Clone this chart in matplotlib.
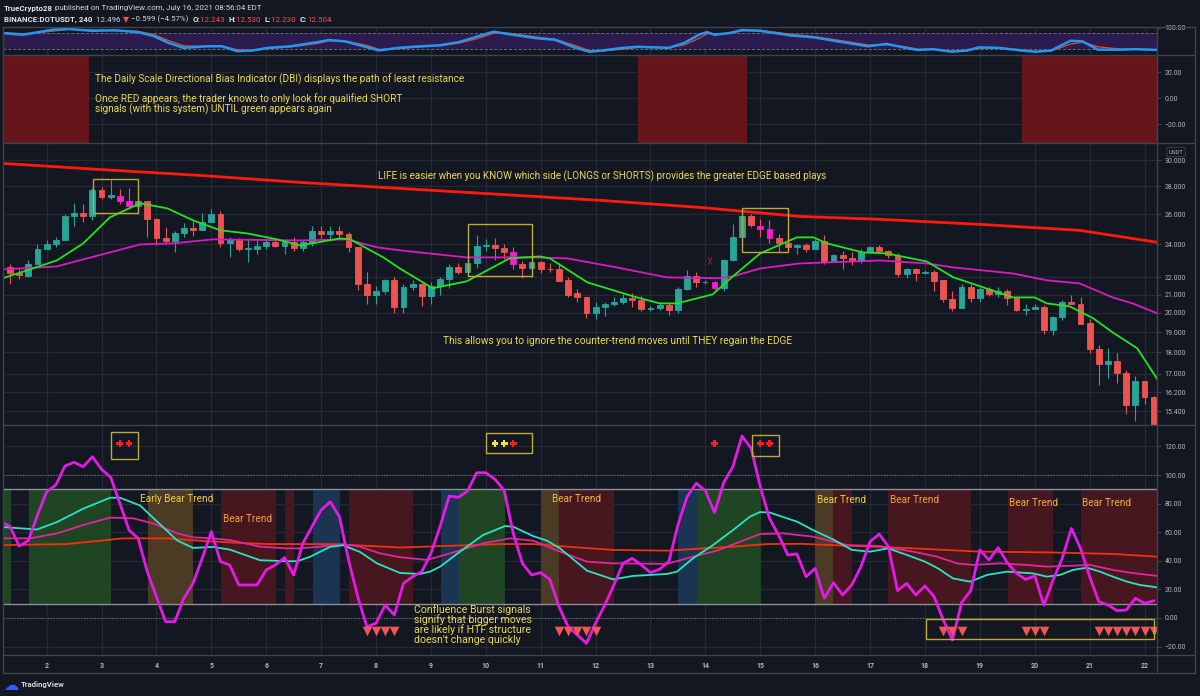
import matplotlib
matplotlib.use("Agg")
import matplotlib.pyplot as plt
from matplotlib.patches import Rectangle
from matplotlib.lines import Line2D
from matplotlib.ticker import NullLocator
from matplotlib import font_manager

W, H = 1200, 696
BG = "#131722"
GRID = "#252935"
SEP = "#3f424d"
TICK = "#b2b5be"
NOTE = "#ecd94a"
UP, DOWN, HILITE = "#26a69a", "#ef5350", "#ff19d1"
BOX = "#bfa935"

names = {f.name for f in font_manager.fontManager.ttflist}
TXT_FONT = ["Liberation Sans Narrow", "Roboto", "DejaVu Sans"] if "Liberation Sans Narrow" in names else ["Roboto", "DejaVu Sans"]
plt.rcParams["font.family"] = ["Roboto", "DejaVu Sans"]

# ---------------- data ----------------
day_labels = list(range(2, 23))
first_midnight = 4      # index of the 00:00 candle of day 2
bars_per_day = 6

opens = [22.57, 22.21, 22.05, 22.80, 23.70, 24.00, 24.25, 25.90, 26.10, 25.90,
         27.70, 27.20, 27.30, 26.90, 26.55, 26.90, 25.70, 24.40, 24.20, 24.75,
         25.05, 24.95, 25.50, 26.00, 24.10, 24.30, 23.70, 23.70, 23.90, 24.15,
         23.90, 24.15, 23.75, 24.10, 24.90, 24.70, 24.85, 24.70, 23.80, 21.60,
         21.00, 21.20, 21.80, 20.30, 21.40, 21.60, 20.90, 21.50, 21.90, 22.60,
         22.30, 22.85, 23.90, 23.95, 23.75, 23.50, 22.75, 22.55, 22.90, 22.50,
         22.50, 21.80, 21.10, 20.85, 20.00, 20.30, 20.50, 20.60, 20.80, 20.70,
         20.20, 20.25, 20.40, 20.15, 21.30, 22.05, 21.70, 21.70, 21.35, 23.00,
         24.45, 25.90, 25.20, 25.00, 24.40, 24.10, 23.80, 23.95, 23.70, 24.20,
         22.95, 23.30, 23.15, 22.95, 23.50, 23.85, 23.55, 23.35, 22.20, 22.50,
         22.25, 22.30, 21.80, 20.75, 20.25, 21.45, 20.80, 21.30, 21.05, 21.20,
         20.80, 20.15, 20.20, 20.30, 19.10, 19.80, 20.60, 20.50, 19.45, 18.15,
         17.45, 17.60, 17.05, 15.65, 16.70, 16.00]
highs = [22.80, 22.50, 23.00, 24.00, 24.30, 24.50, 26.00, 26.80, 26.70, 27.90,
         27.95, 28.50, 27.80, 27.85, 27.30, 26.95, 25.75, 25.10, 24.90, 25.40,
         25.55, 26.10, 26.40, 26.20, 24.50, 24.40, 24.30, 24.25, 24.25, 24.30,
         24.25, 24.45, 24.30, 25.20, 25.20, 25.20, 25.20, 24.80, 23.80, 22.30,
         21.50, 21.90, 22.00, 21.60, 21.80, 21.65, 21.70, 22.00, 22.80, 22.85,
         23.10, 24.60, 24.35, 24.40, 24.00, 23.80, 22.95, 22.95, 22.95, 22.85,
         22.85, 22.00, 21.30, 20.85, 20.60, 20.60, 20.85, 21.05, 21.10, 20.90,
         20.35, 20.60, 20.55, 21.40, 22.40, 22.30, 21.80, 21.75, 23.10, 25.35,
         26.00, 26.00, 25.65, 25.60, 24.70, 24.80, 24.00, 24.10, 24.35, 24.60,
         23.40, 23.60, 23.50, 23.70, 23.90, 23.95, 23.65, 23.45, 22.55, 22.55,
         22.40, 22.40, 21.85, 21.20, 21.60, 21.60, 21.40, 21.40, 21.40, 21.30,
         20.85, 20.50, 20.45, 20.40, 19.85, 20.70, 21.00, 20.85, 19.65, 18.35,
         18.20, 17.95, 17.20, 16.90, 16.70, 16.05]
lows = [21.60, 21.90, 22.00, 22.75, 23.70, 23.80, 24.25, 25.20, 25.50, 25.60,
        27.10, 27.10, 26.70, 26.45, 26.45, 24.50, 23.95, 24.00, 23.50, 24.50,
        24.55, 24.95, 25.50, 23.80, 23.20, 23.60, 22.90, 23.40, 23.70, 23.85,
        23.40, 23.60, 23.60, 23.90, 24.25, 24.30, 24.35, 23.50, 21.25, 20.45,
        20.50, 21.05, 20.00, 20.00, 21.25, 20.35, 20.45, 21.00, 21.35, 22.20,
        22.30, 22.55, 23.60, 23.00, 23.10, 22.50, 21.95, 22.00, 22.25, 22.30,
        21.75, 20.85, 20.60, 19.75, 19.70, 19.85, 20.35, 20.50, 20.30, 20.10,
        20.10, 20.15, 19.90, 20.00, 21.25, 21.40, 21.60, 21.25, 21.20, 22.95,
        24.45, 25.10, 24.50, 24.10, 23.50, 23.60, 23.40, 23.50, 23.70, 22.80,
        22.90, 22.45, 22.70, 22.85, 23.50, 23.45, 23.15, 22.00, 21.95, 21.75,
        22.15, 21.20, 20.60, 20.10, 20.25, 20.60, 20.60, 20.90, 20.85, 20.40,
        20.10, 19.90, 20.20, 18.90, 18.85, 19.60, 20.50, 19.40, 17.95, 16.50,
        16.80, 16.60, 15.30, 15.00, 15.70, 14.50]
closes = [22.21, 22.10, 22.80, 23.70, 24.00, 24.30, 25.90, 26.10, 25.90, 27.70,
          27.20, 27.35, 26.90, 26.55, 26.90, 25.70, 24.40, 24.20, 24.75, 25.05,
          24.95, 25.50, 26.00, 24.10, 24.30, 23.70, 23.75, 23.90, 24.15, 23.90,
          24.15, 23.75, 24.15, 24.90, 24.70, 24.85, 24.70, 23.80, 21.60, 21.00,
          21.20, 21.80, 20.30, 21.40, 21.60, 20.90, 21.50, 21.90, 22.60, 22.30,
          22.85, 23.90, 23.95, 23.75, 23.50, 22.75, 22.55, 22.90, 22.50, 22.45,
          21.75, 21.00, 20.85, 20.00, 20.30, 20.50, 20.60, 20.80, 20.70, 20.20,
          20.25, 20.40, 20.15, 21.30, 22.05, 21.70, 21.72, 21.35, 23.00, 24.45,
          25.90, 25.30, 25.00, 24.40, 24.10, 23.80, 23.95, 23.70, 24.20, 22.95,
          23.30, 23.15, 22.95, 23.50, 23.85, 23.55, 23.35, 22.20, 22.50, 22.25,
          22.30, 21.75, 20.75, 20.25, 21.45, 20.80, 21.30, 21.05, 21.20, 20.80,
          20.15, 20.20, 20.30, 19.10, 19.80, 20.60, 20.50, 19.40, 18.15, 17.45,
          17.60, 17.05, 15.65, 16.70, 16.00, 14.60]
signal_candles = [12, 13, 55, 77, 82, 83]

red_ma_x = [-0.66, 9.8, 20.8, 31.7, 42.6, 53.6, 64.5, 75.4, 86.3, 95.1, 106.0, 116.9, 125.4]
red_ma = [29.76, 29.29, 28.83, 28.30, 27.85, 27.41, 26.98, 26.48, 25.85, 25.65, 25.31, 24.91, 24.13]
green_ma_x = [-0.8, 2.5, 5.1, 8.0, 10.9, 14.2, 17.2, 20.0, 23.0, 25.9, 29.2, 31.7, 36.1, 37.2, 40.8,
              42.6, 46.2, 49.9, 54.6, 57.9, 59.0, 63.1, 68.1, 71.0, 72.9, 76.8, 79.0, 82.0, 86.0, 87.8,
              89.3, 93.2, 95.8, 100.2, 103.1, 105.1, 109.6, 112.0, 113.3, 115.8, 118.4, 120.5, 123.2, 125.4]
green_ma = [21.93, 22.51, 22.99, 24.06, 25.78, 26.77, 26.41, 25.58, 24.91, 24.71, 24.32, 23.93, 24.38, 24.32, 23.18,
            22.51, 21.35, 21.75, 23.12, 23.24, 23.12, 21.69, 20.90, 20.51, 20.51, 21.01, 22.04, 23.43, 24.45, 24.45,
            24.06, 23.49, 23.43, 22.93, 21.98, 21.63, 20.84, 20.84, 20.51, 20.35, 19.71, 18.99, 18.20, 16.76]
pink_ma_x = [-0.8, 5.1, 8.0, 10.9, 14.2, 17.8, 22.2, 31.7, 36.8, 40.1, 42.6, 49.9, 57.2, 60.9, 66.3,
             71.8, 77.3, 79.0, 82.0, 86.3, 95.1, 100.2, 103.1, 109.6, 113.3, 116.9, 120.5, 122.7, 125.4]
pink_ma = [22.45, 22.63, 23.06, 23.49, 23.99, 24.06, 24.32, 24.25, 24.32, 23.81, 23.62, 23.18, 23.18, 23.12, 22.57,
           21.98, 21.93, 22.04, 22.51, 22.81, 22.99, 22.81, 22.57, 22.21, 21.81, 21.63, 20.84, 20.51, 19.97]

# top stochastic pane
stoch_x = [-0.68, 1.42, 4.77, 6.44, 8.94, 11.45, 13.97, 15.63, 17.31, 18.98, 21.5, 23.17, 24.84, 26.51, 28.19,
           30.7, 33.62, 34.87, 36.55, 39.06, 40.32, 42.4, 44.92, 47.0, 49.07, 51.15, 52.86, 54.54, 57.46, 59.56,
           61.64, 63.32, 64.5, 67.0, 68.6, 72.0, 73.7, 75.4, 76.2, 77.0, 78.7, 80.0, 82.0, 85.4, 87.9,
           90.4, 93.8, 95.8, 97.9, 99.2, 100.9, 102.95, 104.6, 105.9, 108.0, 110.5, 112.1, 113.8, 115.9, 117.2,
           118.9, 121.4, 123.0, 125.4]
stoch_k = [80, 74, 94, 96, 89, 91, 84, 70, 43, 24, 30, 30, 11, 14, 24,
           30, 46, 54, 49, 26, 14, 24, 30, 34, 46, 68, 86, 76, 61, 55,
           26, 9, 13, 24, 28, 24, 43, 76, 84, 74, 81, 92, 89, 71, 64,
           49, 30, 39, 24, 16, 19, 9, 14, 26, 24, 14, 9, 14, 51, 49,
           17, 17, 19, 16]
stoch_d = [82, 78, 88, 95, 92, 90, 87, 76, 52, 32, 29, 31, 17, 13, 21,
           28, 41, 51, 51, 33, 18, 21, 28, 32, 42, 60, 80, 80, 66, 57,
           34, 14, 11, 19, 26, 25, 35, 62, 78, 78, 79, 89, 91, 76, 67,
           54, 35, 36, 28, 19, 18, 12, 12, 22, 25, 17, 11, 12, 38, 46,
           28, 19, 18, 17]

# daily directional bias: red (short-only) stretches
dbi_red = [(-1.0, 8.6), (68.6, 80.6), (110.6, 126.0)]

# oscillator pane
osc_main = [67.4, 63.9, 50.3, 54.1, 72.0, 88.3, 93.0, 106.3, 108.9, 105.8,
            112.8, 104.0, 98.4, 80.2, 61.5, 55.7, 32.4, 14.9, -2.6, -2.6,
            13.8, 24.3, 41.7, 60.4, 39.4, 37.1, 23.1, 23.1, 23.1, 33.6,
            37.1, 42.2, 30.1, 52.2, 63.9, 75.5, 81.3, 70.8, 40.6, 14.9,
            -6.1, -3.7, 9.1, 2.1, 24.2, 28.9, 32.4, 45.2, 63.9, 85.3,
            84.4, 88.8, 101.6, 101.6, 97.0, 89.5, 59.2, 38.2, 30.1, 31.7,
            27.0, 7.9, -6.1, -11.9, -17.7, -3.7, 9.1, 23.1, 38.2, 41.7,
            37.1, 31.7, 34.1, 39.4, 65.0, 84.8, 94.2, 89.0, 73.6, 94.6,
            105.8, 127.3, 118.7, 91.8, 69.7, 58.0, 44.1, 44.8, 28.9, 34.7,
            13.8, 24.7, 16.1, 23.1, 35.9, 53.4, 58.7, 49.9, 19.1, 24.2,
            16.1, 22.4, 14.9, -1.4, -15.4, 10.7, 19.1, 47.6, 40.6, 49.2,
            38.7, 31.2, 27.0, 29.4, 9.1, 26.6, 41.7, 62.7, 48.7, 28.9,
            11.4, 9.1, 5.1, 5.6, 13.8, 10.3, 12.0]
osc_main_start = -1
cyan_x = [-0.77, 2.95, 5.14, 7.98, 10.93, 12.02, 14.21, 16.72, 18.25, 20.0, 22.19, 24.04, 27.32, 30.27, 31.37,
          32.79, 34.97, 36.39, 38.25, 40.11, 42.62, 44.81, 45.9, 47.0, 49.18, 51.69, 54.1, 54.97, 57.16, 58.69,
          60.11, 63.06, 65.9, 68.09, 71.8, 72.9, 74.64, 76.83, 79.02, 80.87, 81.97, 83.06, 86.01, 87.76, 89.95,
          92.02, 93.99, 95.96, 98.03, 100.0, 101.42, 103.06, 104.92, 106.78, 108.96, 111.8, 113.33, 114.75, 116.17, 117.7,
          119.13, 120.55, 122.08, 123.5, 125.36]
cyan = [63.6, 61.9, 67.1, 76.4, 84.1, 84.1, 78.7, 63.6, 54.3, 49.0, 49.7, 47.8, 40.4, 39.7, 39.7,
        42.8, 49.7, 50.9, 46.2, 38.2, 31.5, 30.8, 32.4, 35.9, 46.4, 58.0, 64.3, 63.9, 57.3, 54.1,
        48.7, 33.1, 27.0, 29.4, 30.8, 32.4, 41.7, 51.0, 61.5, 70.9, 74.1, 73.7, 67.4, 61.5, 55.0,
        47.6, 46.4, 48.7, 44.1, 39.4, 34.7, 27.7, 25.4, 30.1, 32.4, 31.2, 28.9, 30.1, 33.6, 35.2,
        32.4, 28.9, 25.4, 23.1, 21.4]
pink_x = [-0.77, 2.19, 5.14, 7.98, 10.93, 13.44, 15.63, 18.25, 20.0, 22.19, 24.04, 27.32, 30.27, 31.69, 33.88,
          36.39, 38.25, 40.44, 42.62, 45.57, 48.09, 51.69, 54.64, 57.16, 60.11, 63.06, 65.9, 71.8, 74.64, 77.27,
          80.11, 81.97, 84.48, 87.76, 91.48, 95.08, 98.69, 101.31, 103.5, 105.25, 108.2, 111.15, 113.33, 116.17, 118.03,
          120.55, 122.4, 125.36]
pink = [55.7, 55.7, 59.2, 65.0, 70.2, 69.7, 66.2, 59.2, 56.4, 55.7, 54.5, 49.9, 48.7, 48.7, 49.9,
        51.7, 49.9, 45.2, 42.5, 40.6, 45.2, 52.2, 55.7, 54.1, 46.4, 39.4, 38.2, 37.8, 42.9, 47.1,
        54.1, 58.7, 59.2, 56.9, 51.0, 50.3, 46.4, 42.9, 38.2, 37.1, 38.2, 37.1, 35.9, 36.6, 37.1,
        33.6, 31.7, 29.4]
slow_x = [-0.77, 6.23, 12.35, 17.16, 22.19, 28.09, 35.3, 42.62, 53.55, 57.16, 60.87, 65.9, 71.8, 79.02, 82.73,
          86.34, 91.48, 98.69, 106.01, 113.33, 120.55, 125.36]
slow = [51.0, 51.7, 55.7, 55.7, 53.4, 51.7, 51.7, 49.3, 51.7, 51.7, 49.9, 47.6, 47.1, 49.9, 51.7,
        51.9, 50.6, 48.7, 46.4, 45.9, 44.8, 42.9]

band_spans = [(-1.0, 0.11), (2.08, 11.04), (15.08, 20.0), (23.06, 29.07), (30.05, 31.04), (33.11, 36.07),
              (37.05, 44.04), (47.1, 49.07), (49.07, 54.1), (58.03, 60.0), (60.0, 66.01), (73.0, 75.08),
              (75.08, 82.08), (87.98, 89.95), (89.95, 92.02), (95.96, 105.03), (109.07, 113.99), (117.05, 126.0)]
band_kind = ["bull", "bull", "early", "bear", "bear", "pull", "bear", "pull", "bull", "early", "bear", "pull",
             "bull", "early", "bear", "bear", "bear", "bear"]

dot_x = [12, 13, 53, 54, 55, 77, 82, 83]
dot_kind = ["red", "red", "yellow", "yellow", "red", "red", "red", "red"]
dot_level = 122
burst_x = [39, 40, 41, 42, 60, 61, 62, 63, 64, 102, 103, 104, 111, 112, 113,
           119, 120, 121, 122, 123, 124, 125]
burst_level = -9

# ---------------- figure ----------------
fig = plt.figure(figsize=(W / 100, H / 100), dpi=100, facecolor=BG)
renderer = fig.canvas.get_renderer()
XL, XR = 3, 1157
XMIN, XMAX = -0.77, 125.36


def panel(y0, y1):
    return fig.add_axes([XL / W, 1 - y1 / H, (XR - XL) / W, (y1 - y0) / H])


ax_top = panel(27, 54.5)
ax_dbi = panel(54.5, 142.5)
ax_px = panel(142.5, 425)
ax_osc = panel(425, 655)

day_ticks = [first_midnight + bars_per_day * (d - day_labels[0]) for d in day_labels]

for ax in (ax_top, ax_dbi, ax_px, ax_osc):
    ax.set_facecolor(BG)
    ax.set_xlim(XMIN, XMAX)
    for s in ax.spines.values():
        s.set_visible(False)
    ax.set_xticks(day_ticks)
    ax.grid(True, color=GRID, lw=0.9)
    ax.set_axisbelow(True)
    ax.tick_params(axis="x", length=0, labelbottom=False)
    ax.yaxis.tick_right()
    ax.tick_params(axis="y", length=3, width=0.8, color=SEP, labelcolor=TICK, labelsize=5, pad=2.5)
    ax.yaxis.set_minor_locator(NullLocator())

# --- top stochastic pane
ax_top.set_ylim(-1.4, 103.6)
ax_top.fill_between([XMIN - 2, XMAX + 2], 20, 80, color="#2b1b4e", lw=0)
ax_top.axhline(80, color="#6b6e7a", lw=0.7, ls=(0, (3, 2)))
ax_top.axhline(20, color="#6b6e7a", lw=0.7, ls=(0, (3, 2)))
ax_top.plot(stoch_x, stoch_d, color="#e0501c", lw=0.9)
ax_top.plot(stoch_x, stoch_k, color="#2196f3", lw=1.8)
ax_top.set_yticks([100])
ax_top.set_yticklabels(["100.00"])
ax_top.yaxis.grid(False)

# --- DBI pane
ax_dbi.set_ylim(-34.0, 33.7)
for a, b in dbi_red:
    ax_dbi.axvspan(a, b, color="#66161b", lw=0)
ax_dbi.set_yticks([20, 0, -20])
ax_dbi.set_yticklabels(["20.00", "0.00", "\u221220.00"])

# --- price pane
ax_px.set_yscale("log")
ax_px.set_ylim(14.84, 31.47)
pticks = [30, 28, 26, 24, 22, 21, 20, 19, 18, 17, 16.2, 15.4]
ax_px.set_yticks(pticks)
ax_px.set_yticklabels([f"{v:.3f}" for v in pticks])
ax_px.yaxis.set_minor_locator(NullLocator())

ax_px.plot(red_ma_x, red_ma, color="#ff1a0a", lw=2.0, zorder=3)
idx = list(range(len(opens)))
cols = []
for i in idx:
    if i in signal_candles:
        cols.append(HILITE)
    elif closes[i] >= opens[i]:
        cols.append(UP)
    else:
        cols.append(DOWN)
wick_cols = [DOWN if c == HILITE else c for c in cols]
ax_px.vlines(idx, lows, highs, colors=wick_cols, lw=0.8, zorder=4)
bottoms = [min(o, c) for o, c in zip(opens, closes)]
heights = [abs(c - o) for o, c in zip(opens, closes)]
ax_px.bar(idx, heights, bottom=bottoms, width=0.64, color=cols, edgecolor=cols, lw=0.6, zorder=5)
ax_px.plot(pink_ma_x, pink_ma, color="#dd19c4", lw=1.3, zorder=6)
ax_px.plot(green_ma_x, green_ma, color="#22e51c", lw=1.3, zorder=6)

for x0, x1, p0, p1 in [(9.07, 14.0, 26.06, 28.52), (50.0, 57.0, 22.04, 25.31), (80.0, 85.0, 23.49, 26.45)]:
    ax_px.add_patch(Rectangle((x0, p0), x1 - x0, p1 - p0, fill=False, ec=BOX, lw=1.0, zorder=7))
ax_px.text(76.5, 22.87, "X", color="#a02424", fontsize=7, ha="center", va="center", zorder=7)

# --- oscillator pane
ax_osc.set_ylim(-25.9, 135.0)
band_col = {"bull": "#1f4523", "early": "#4b3a24", "bear": "#46171f", "pull": "#1b3451"}
for (a, b), k in zip(band_spans, band_kind):
    ax_osc.fill_between([a, b], 10, 90, color=band_col[k], lw=0, zorder=1)
ax_osc.axhline(90, color="#8c8f99", lw=1.0, zorder=2)
ax_osc.axhline(10, color="#8c8f99", lw=1.0, zorder=2)
ax_osc.axhline(100, color="#6d707b", lw=0.8, ls=(0, (1, 1.5)), zorder=2)
ax_osc.axhline(0, color="#6d707b", lw=0.8, ls=(0, (1, 1.5)), zorder=2)
ax_osc.plot(slow_x, slow, color="#f5300f", lw=1.3, zorder=3)
ax_osc.plot(pink_x, pink, color="#e4259a", lw=1.3, zorder=3)
ax_osc.plot(cyan_x, cyan, color="#2be3c4", lw=1.3, zorder=3)
ax_osc.plot(range(osc_main_start, osc_main_start + len(osc_main)), osc_main, color="#e619e6", lw=2.0, zorder=4)
dot_col = {"red": "#ff1e1e", "yellow": "#ffe23a"}
ax_osc.scatter(dot_x, [dot_level] * len(dot_x), marker="P", s=24, c=[dot_col[k] for k in dot_kind], lw=0, zorder=5)
ax_osc.scatter(burst_x, [burst_level] * len(burst_x), marker="v", s=48, c="#f25555", lw=0, zorder=5)
for x0, x1, v0, v1 in [(11.04, 14.0, 111.2, 130.1), (52.0, 57.05, 115.4, 129.4),
                       (81.1, 84.0, 113.3, 128.0), (100.1, 125.0, -14.9, -0.9)]:
    ax_osc.add_patch(Rectangle((x0, v0), x1 - x0, v1 - v0, fill=False, ec=BOX, lw=1.0, zorder=6))
ax_osc.set_yticks([120, 100, 80, 60, 40, 20, 0, -20])
ax_osc.set_yticklabels(["120.00", "100.00", "80.00", "60.00", "40.00", "20.00", "0.00", "\u221220.00"])
ax_osc.set_xticklabels([str(d) for d in day_labels])
ax_osc.tick_params(axis="x", labelbottom=True, labelcolor=TICK, labelsize=5, pad=5)
for t in ax_osc.get_xticklabels():
    t.set_fontweight("bold")


# ---------------- text ----------------
def ftext(x, y, s, **kw):
    kw.setdefault("va", "center")
    return fig.text(x / W, 1 - y / H, s, **kw)


def fit(x, y, s, width, **kw):
    t = ftext(x, y, s, fontsize=8, family=TXT_FONT, **kw)
    w = t.get_window_extent(renderer).width
    t.set_fontsize(8 * width / w)
    return t


def chain(x, y, pieces, size):
    for s, color, weight in pieces:
        t = ftext(x, y, s, color=color, fontsize=size, fontweight=weight, family=TXT_FONT + ["DejaVu Sans"])
        x += t.get_window_extent(renderer).width


hdr = fit(4, 8, "TrueCrypto28 published on TradingView.com, July 16, 2021 08:56:04 EDT", 257)
hsize = hdr.get_fontsize()
hdr.remove()
chain(4, 8, [("TrueCrypto28", "#e0e3eb", "bold"),
             (" published on TradingView.com, July 16, 2021 08:56:04 EDT", "#d1d4dc", "normal")], hsize)
chain(4, 19.5, [("BINANCE:DOTUSDT, 240", "#e0e3eb", "bold"), ("  12.496 ", "#d1d4dc", "normal"),
                ("\u25bc", "#ef5350", "normal"), (" \u22120.599 (\u22124.57%)  ", "#d1d4dc", "normal"),
                ("O:", "#e0e3eb", "bold"), ("12.243  ", "#ef5350", "normal"),
                ("H:", "#e0e3eb", "bold"), ("12.530  ", "#ef5350", "normal"),
                ("L:", "#e0e3eb", "bold"), ("12.230  ", "#ef5350", "normal"),
                ("C:", "#e0e3eb", "bold"), ("12.504", "#ef5350", "normal")], hsize)

d1 = fit(95, 79, "The Daily Scale Directional Bias Indicator (DBI) displays the path of least resistance", 371, color=NOTE)
ds = d1.get_fontsize()
ftext(95, 99, "Once RED appears, the trader knows to only look for qualified SHORT", color=NOTE, fontsize=ds, family=TXT_FONT)
ftext(95, 109, "signals (with this system) UNTIL green appears again", color=NOTE, fontsize=ds, family=TXT_FONT)

fit(378, 176, "LIFE is easier when you KNOW which side (LONGS or SHORTS) provides the greater EDGE based plays", 446, color=NOTE)
fit(443, 341, "This allows you to ignore the counter-trend moves until THEY regain the EDGE", 348, color=NOTE)

c3 = fit(414, 630, "are likely if HTF structure", 116, color=NOTE)
cs = c3.get_fontsize()
for yy, s in [(610, "Confluence Burst signals"), (620, "signify that bigger moves"), (640, "doesn't change quickly")]:
    ftext(414, yy, s, color=NOTE, fontsize=cs, family=TXT_FONT)

eb = fit(140, 499, "Early Bear Trend", 73, color="#f2d03c")
bs = eb.get_fontsize()
for x, y, c in [(223, 519, "#f2a232"), (552, 499, "#f2b83a"), (817, 500, "#f2cc3c"), (890, 500, "#f2a232"),
                (1009, 503, "#f2b03a"), (1082, 503, "#f2b03a")]:
    ftext(x, y, "Bear Trend", color=c, fontsize=bs, family=TXT_FONT)

ftext(1176, 152, "USDT", color=TICK, fontsize=4.3, ha="center",
      bbox=dict(boxstyle="round,pad=0.35", fc=BG, ec="#363a45", lw=0.8))

# footer logo
ftext(3, 685, "\u2601", color="#2962ff", fontsize=11, family=["DejaVu Sans"])
fit(21, 685, "TradingView", 44, color="#d1d4dc", fontweight="bold")

# ---------------- frame lines ----------------
def fline(x0, y0, x1, y1, color=SEP, lw=1.0):
    fig.add_artist(Line2D([x0 / W, x1 / W], [1 - y0 / H, 1 - y1 / H], color=color, lw=lw))


for yy in (27, 54.5, 142.5, 425, 655, 673):
    fline(3, yy, 1195, yy)
for xx in (3, 1157, 1195):
    fline(xx, 27, xx, 673)

fig.savefig("out.png", dpi=100, facecolor=BG)
